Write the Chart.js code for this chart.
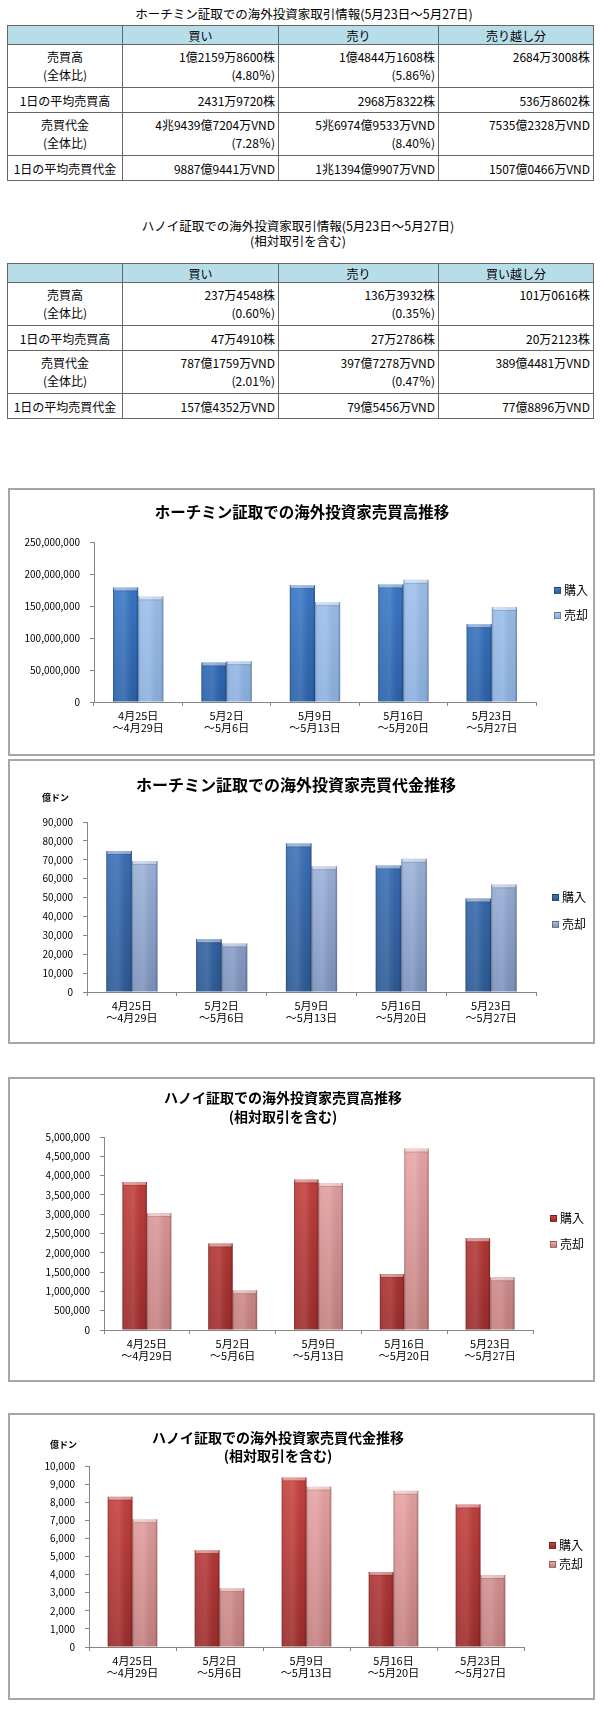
<!DOCTYPE html>
<html>
<head>
<meta charset="utf-8">
<script src="https://cdn.jsdelivr.net/npm/chart.js@4.4.1/dist/chart.umd.min.js"></script>
<style>
body { margin: 0; width: 600px; height: 1712px; position: relative; background: #fff; font-family: "Noto Sans CJK JP", sans-serif; color: #000; overflow: hidden; }
.cap { position: absolute; width: 600px; text-align: center; font-size: 12.5px; line-height: 15px; }
table { position: absolute; left: 7px; width: 586px; border-collapse: collapse; table-layout: fixed; font-size: 12px; }
td, th { border: 1px solid #666; padding: 0 3px; line-height: 15px; text-align: right; }
th { background: #b7dde8; font-weight: normal; text-align: center; height: 18px; }
td.lbl { text-align: center; }
tr.two td { height: 42px; line-height: 18px; }
tr.one td { height: 24px; }
.box { position: absolute; left: 8px; width: 587px; border: 2px solid #a6a6a6; box-sizing: border-box; }
canvas { position: absolute; left: 10px; }
.ttl { position: absolute; width: 600px; text-align: center; font-weight: bold; }
.unit { position: absolute; font-size: 9px; font-weight: bold; line-height: 12px; }
.lg { position: absolute; font-size: 12px; line-height: 16px; white-space: nowrap; }
.lg span { display: inline-block; width: 7px; height: 7px; margin-right: 3px; vertical-align: 1px; border: 1px solid rgba(0,0,0,0.3); box-sizing: border-box; }
</style>
</head>
<body>

<div class="cap" style="left:4px;top:6px">ホーチミン証取での海外投資家取引情報(5月23日～5月27日)</div>
<table style="top:25px">
  <colgroup><col style="width:115px"><col style="width:156px"><col style="width:160px"><col style="width:155px"></colgroup>
  <tr><th></th><th>買い</th><th>売り</th><th>売り越し分</th></tr>
  <tr class="two"><td class="lbl">売買高<br>(全体比)</td><td>1億2159万8600株<br>(4.80％)</td><td>1億4844万1608株<br>(5.86％)</td><td>2684万3008株<br>&nbsp;</td></tr>
  <tr class="one"><td class="lbl">1日の平均売買高</td><td>2431万9720株</td><td>2968万8322株</td><td>536万8602株</td></tr>
  <tr class="two"><td class="lbl">売買代金<br>(全体比)</td><td>4兆9439億7204万VND<br>(7.28％)</td><td>5兆6974億9533万VND<br>(8.40％)</td><td>7535億2328万VND<br>&nbsp;</td></tr>
  <tr class="one"><td class="lbl">1日の平均売買代金</td><td>9887億9441万VND</td><td>1兆1394億9907万VND</td><td>1507億0466万VND</td></tr>
</table>

<div class="cap" style="left:-2px;top:218px">ハノイ証取での海外投資家取引情報(5月23日～5月27日)<br>(相対取引を含む)</div>
<table style="top:263px">
  <colgroup><col style="width:115px"><col style="width:156px"><col style="width:160px"><col style="width:155px"></colgroup>
  <tr><th></th><th>買い</th><th>売り</th><th>買い越し分</th></tr>
  <tr class="two"><td class="lbl">売買高<br>(全体比)</td><td>237万4548株<br>(0.60％)</td><td>136万3932株<br>(0.35％)</td><td>101万0616株<br>&nbsp;</td></tr>
  <tr class="one"><td class="lbl">1日の平均売買高</td><td>47万4910株</td><td>27万2786株</td><td>20万2123株</td></tr>
  <tr class="two"><td class="lbl">売買代金<br>(全体比)</td><td>787億1759万VND<br>(2.01％)</td><td>397億7278万VND<br>(0.47％)</td><td>389億4481万VND<br>&nbsp;</td></tr>
  <tr class="one"><td class="lbl">1日の平均売買代金</td><td>157億4352万VND</td><td>79億5456万VND</td><td>77億8896万VND</td></tr>
</table>

<div class="box" style="top:488px;height:268px"></div>
<canvas id="hcmVolume" width="583" height="264" style="top:490px;width:583px;height:264px"></canvas>
<div class="ttl" style="left:2px;top:501px;font-size:15.5px;line-height:20px">ホーチミン証取での海外投資家売買高推移</div>

<div class="box" style="top:759px;height:285px"></div>
<canvas id="hcmValue" width="583" height="281" style="top:761px;width:583px;height:281px"></canvas>
<div class="ttl" style="left:-4px;top:774px;font-size:16px;line-height:20px">ホーチミン証取での海外投資家売買代金推移</div>
<div class="unit" style="left:42px;top:792px">億ドン</div>

<div class="box" style="top:1077px;height:305px"></div>
<canvas id="hnVolume" width="583" height="301" style="top:1079px;width:583px;height:301px"></canvas>
<div class="ttl" style="left:-17px;top:1088px;font-size:14px;line-height:19px">ハノイ証取での海外投資家売買高推移<br>(相対取引を含む)</div>

<div class="box" style="top:1413px;height:287px"></div>
<canvas id="hnValue" width="583" height="283" style="top:1415px;width:583px;height:283px"></canvas>
<div class="ttl" style="left:-22px;top:1428px;font-size:14px;line-height:18px">ハノイ証取での海外投資家売買代金推移<br>(相対取引を含む)</div>
<div class="unit" style="left:50px;top:1439px">億ドン</div>

<script>
// weekly periods
const categories = [
    ['4月25日', '～4月29日'],
    ['5月2日', '～5月6日'],
    ['5月9日', '～5月13日'],
    ['5月16日', '～5月20日'],
    ['5月23日', '～5月27日']
];
const seriesLabels = ['購入', '売却'];

// Ho Chi Minh: volume (shares) and value (億ドン)
const hcmVolumeBuy = [179000000, 61700000, 182600000, 183600000, 121598600];
const hcmVolumeSell = [165000000, 63800000, 156000000, 190900000, 148441608];
const hcmValueBuy = [74700, 27900, 78600, 67000, 49440];
const hcmValueSell = [69400, 25700, 66600, 70500, 56975];

// Hanoi: volume (shares) and value (億ドン)
const hnVolumeBuy = [3836000, 2240000, 3900000, 1450000, 2374548];
const hnVolumeSell = [3030000, 1030000, 3810000, 4700000, 1363932];
const hnValueBuy = [8300, 5350, 9370, 4150, 7872];
const hnValueSell = [7060, 3250, 8860, 8630, 3977];

const blueColors = [['#3f80d0', '#2a61aa'], ['#a5c6ef', '#8aafdf']];
const slateColors = [['#3d73be', '#2b5994'], ['#a6bce3', '#7c92bc']];
const redColors = [['#cc4441', '#9c2b2b'], ['#eca8a8', '#c47f7f']];

Chart.defaults.font.family = '"Noto Sans CJK JP", sans-serif';

function barGradient(ctx, pair) {
    const area = ctx.chart.chartArea;
    if (!area) return pair[0];
    const g = ctx.chart.ctx.createLinearGradient(0, area.top, 0, area.bottom);
    g.addColorStop(0, pair[0]);
    g.addColorStop(1, pair[1]);
    return g;
}

// gives the bars the bevelled look of the original
const bevel = {
    id: 'bevel',
    afterDatasetsDraw(chart) {
        const c = chart.ctx;
        chart.data.datasets.forEach((ds, i) => {
            chart.getDatasetMeta(i).data.forEach(bar => {
                const left = bar.x - bar.width / 2;
                const w = bar.width;
                const h = bar.base - bar.y;
                const g = c.createLinearGradient(left, 0, left + w, 0);
                g.addColorStop(0, 'rgba(0,0,0,0.25)');
                g.addColorStop(0.1, 'rgba(255,255,255,0.08)');
                g.addColorStop(0.45, 'rgba(255,255,255,0.12)');
                g.addColorStop(0.9, 'rgba(0,0,0,0.03)');
                g.addColorStop(1, 'rgba(0,0,0,0.28)');
                c.fillStyle = g;
                c.fillRect(left, bar.y, w, h);
                c.fillStyle = 'rgba(255,255,255,0.45)';
                c.fillRect(left + 1, bar.y, w - 2, 3);
                c.fillStyle = 'rgba(0,0,0,0.12)';
                c.fillRect(left + 1, bar.y + 3, w - 2, 1);
            });
        });
    }
};

function makeChart(id, buy, sell, colors, yMax, yStep, padTop, padRight, yWidth, xHeight) {
    return new Chart(document.getElementById(id), {
        type: 'bar',
        data: {
            labels: categories,
            datasets: [
                { label: seriesLabels[0], data: buy, backgroundColor: ctx => barGradient(ctx, colors[0]) },
                { label: seriesLabels[1], data: sell, backgroundColor: ctx => barGradient(ctx, colors[1]) }
            ]
        },
        options: {
            responsive: false,
            animation: false,
            layout: { padding: { top: padTop, right: padRight, left: 0, bottom: 0 } },
            plugins: { legend: { display: false }, tooltip: { enabled: false } },
            datasets: { bar: { categoryPercentage: 0.57, barPercentage: 1 } },
            scales: {
                x: {
                    grid: { drawOnChartArea: false, tickLength: 4, color: '#868686' },
                    border: { color: '#868686' },
                    ticks: { color: '#000', font: { size: 11, lineHeight: 1.1 }, padding: 4, maxRotation: 0, autoSkip: false },
                    afterFit: s => { s.height = xHeight; }
                },
                y: {
                    min: 0,
                    max: yMax,
                    grid: { drawOnChartArea: false, tickLength: 4, color: '#868686' },
                    border: { color: '#868686' },
                    ticks: { stepSize: yStep, color: '#000', font: { size: 10 }, padding: 10, autoSkip: false,
                             callback: v => v.toLocaleString('en-US') },
                    afterFit: s => { s.width = yWidth; }
                }
            }
        },
        plugins: [bevel]
    });
}

function addLegend(chart, colors, left, tops) {
    chart.data.datasets.forEach((ds, i) => {
        const item = document.createElement('div');
        item.className = 'lg';
        item.style.left = left + 'px';
        item.style.top = (tops[i] - 8) + 'px';
        item.innerHTML = `<span style="background:linear-gradient(${colors[i][0]}, ${colors[i][1]})"></span>${ds.label}`;
        document.body.appendChild(item);
    });
}

const c1 = makeChart('hcmVolume', hcmVolumeBuy, hcmVolumeSell, blueColors, 250000000, 50000000, 52, 57, 84, 52);
addLegend(c1, blueColors, 554, [590, 615]);

const c2 = makeChart('hcmValue', hcmValueBuy, hcmValueSell, slateColors, 90000, 10000, 61, 57, 77, 50);
addLegend(c2, slateColors, 552, [897, 924]);

const c3 = makeChart('hnVolume', hnVolumeBuy, hnVolumeSell, redColors, 5000000, 500000, 58, 60, 94, 50);
addLegend(c3, redColors, 550, [1218, 1244]);

const c4 = makeChart('hnValue', hnValueBuy, hnValueSell, redColors, 10000, 1000, 51, 69, 79, 51);
addLegend(c4, redColors, 549, [1545, 1564]);
</script>
</body>
</html>
